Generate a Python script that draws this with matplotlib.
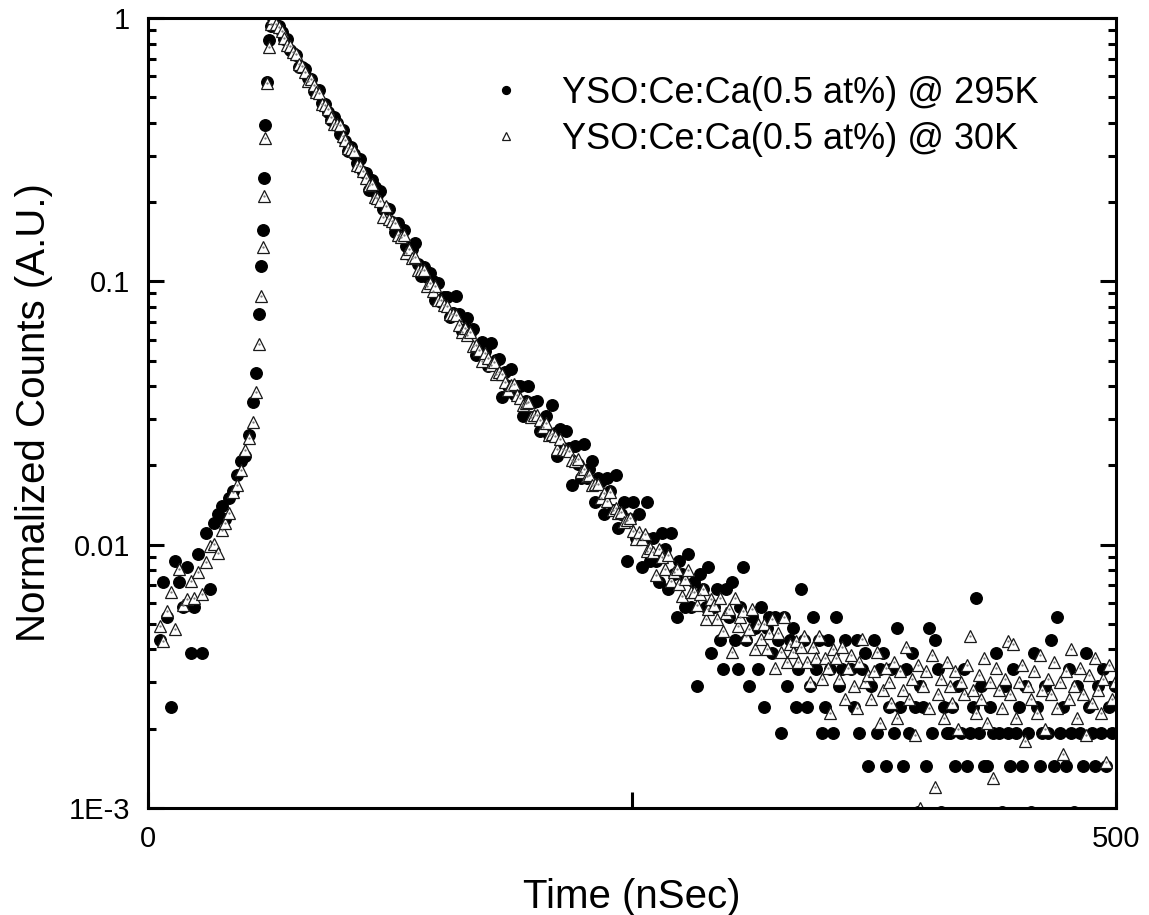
import numpy as np
import matplotlib
matplotlib.use('Agg')
import matplotlib.pyplot as plt
from matplotlib.ticker import LogLocator, NullFormatter, NullLocator

plt.rcParams['font.family'] = ['Liberation Sans', 'DejaVu Sans']

# -----------------------
# time channels (ns)
# -----------------------
t_pre = np.arange(6, 57, 2)                                   # before the rise
t_rise = np.array([57.5, 58.5, 59.2, 59.8, 60.6, 61.6, 62.6, 63.4])
t_dec = 64.5 + 1.5 * np.arange(291)                           # decay channels
time = np.concatenate([t_pre, t_rise, t_dec])

# -----------------------
# YSO:Ce:Ca(0.5 at%) @ 295K, raw counts
# -----------------------
cnt_295_pre = [9, 15, 11, 5, 18, 15, 12, 17, 8, 12, 19, 8, 23, 14, 25,
               27, 29, 26, 31, 33, 38, 43, 45, 54, 72, 93]
cnt_295_rise = [155, 236, 323, 513, 814, 1186, 1710, 1925]
cnt_295_dec = [
    2070, 1934, 1935, 1830, 1724, 1729, 1566, 1527, 1494, 1349,
    1354, 1330, 1226, 1212, 1098, 1091, 1103, 983, 972, 911,
    851, 870, 823, 753, 778, 709, 645, 668, 631, 583,
    601, 539, 535, 461, 503, 473, 441, 457, 388, 393,
    389, 348, 320, 346, 316, 324, 283, 263, 274, 289,
    240, 217, 234, 215, 222, 207, 176, 204, 173, 181,
    180, 152, 157, 182, 156, 134, 136, 150, 132, 137,
    109, 112, 122, 113, 99, 121, 101, 104, 105, 75,
    94, 83, 96, 77, 83, 83, 64, 73, 83, 63,
    72, 73, 56, 60, 64, 54, 70, 55, 45, 57,
    48, 56, 48, 35, 49, 42, 37, 50, 37, 40,
    43, 30, 37, 36, 27, 37, 33, 28, 38, 24,
    27, 30, 18, 26, 30, 22, 27, 17, 22, 30,
    18, 22, 18, 15, 23, 20, 14, 23, 16, 11,
    18, 16, 12, 19, 12, 15, 6, 16, 14, 12,
    17, 8, 12, 14, 9, 7, 14, 11, 15, 9,
    7, 12, 17, 9, 6, 11, 10, 7, 12, 5,
    10, 11, 8, 11, 9, 4, 11, 6, 9, 10,
    5, 7, 14, 9, 5, 6, 11, 7, 9, 4,
    5, 9, 7, 4, 11, 6, 7, 9, 1, 7,
    5, 9, 4, 7, 8, 3, 6, 9, 4, 7,
    8, 3, 5, 7, 4, 10, 5, 3, 7, 4,
    8, 5, 2, 6, 5, 3, 10, 4, 9, 7,
    2, 5, 4, 4, 5, 3, 6, 4, 7, 3,
    4, 5, 13, 4, 6, 3, 3, 5, 4, 8,
    4, 2, 6, 4, 3, 7, 4, 5, 3, 6,
    4, 2, 8, 5, 3, 4, 6, 4, 9, 3,
    11, 4, 5, 3, 7, 4, 2, 6, 4, 3,
    8, 5, 4, 3, 6, 4, 7, 3, 5, 4,
    6]

# -----------------------
# YSO:Ce:Ca(0.5 at%) @ 30K, counts (scaled)
# -----------------------
cnt_30_pre = [49, 43, 56, 66, 48, 81, 59, 62, 73, 63, 79, 65, 86, 99, 101,
              93, 114, 121, 132, 159, 169, 192, 229, 254, 293, 380]
cnt_30_rise = [580, 880, 1350, 2110, 3490, 5650, 7780, 9500]
cnt_30_dec = [
    10000, 9489, 9242, 8962, 8386, 7908, 7837, 7417, 7306, 6705,
    6563, 6240, 5783, 5849, 5560, 5225, 5184, 4729, 4658, 4527,
    4207, 3948, 3968, 3930, 3570, 3448, 3213, 3194, 3139, 2771,
    2753, 2624, 2477, 2313, 2334, 2085, 2075, 2022, 1762, 1932,
    1724, 1695, 1662, 1496, 1469, 1495, 1285, 1331, 1227, 1234,
    1100, 1103, 1104, 957, 983, 921, 963, 849, 852, 815,
    808, 750, 753, 748, 685, 641, 667, 628, 641, 570,
    574, 547, 499, 533, 512, 482, 495, 445, 451, 446,
    413, 388, 405, 408, 371, 361, 340, 346, 347, 306,
    311, 312, 297, 280, 289, 260, 263, 259, 230, 253,
    230, 229, 227, 209, 207, 212, 188, 194, 183, 184,
    169, 170, 170, 151, 157, 147, 158, 136, 138, 132,
    133, 122, 124, 126, 113, 105, 112, 105, 110, 95,
    97, 94, 77, 96, 90, 81, 91, 73, 79, 81,
    71, 64, 74, 80, 66, 66, 59, 65, 68, 52,
    57, 62, 59, 52, 63, 47, 55, 57, 39, 63,
    49, 53, 56, 45, 48, 57, 40, 50, 44, 50,
    40, 46, 52, 34, 46, 39, 53, 36, 42, 39,
    43, 36, 41, 45, 36, 30, 41, 37, 45, 31,
    37, 34, 23, 40, 37, 31, 41, 26, 34, 38,
    29, 24, 36, 44, 30, 32, 26, 33, 39, 21,
    28, 34, 30, 25, 36, 22, 33, 28, 41, 26,
    31, 19, 35, 10, 29, 33, 24, 38, 12, 27,
    31, 22, 36, 29, 25, 33, 20, 30, 27, 35,
    45, 28, 23, 32, 26, 37, 21, 30, 13, 34,
    28, 24, 31, 43, 27, 42, 22, 30, 35, 18,
    29, 26, 33, 23, 38, 28, 20, 31, 27, 36,
    24, 30, 16, 33, 26, 40, 29, 22, 34, 27,
    19, 32, 25, 37, 28, 23, 31, 15, 35, 26,
    30]

labels = ['YSO:Ce:Ca(0.5 at%) @ 295K', 'YSO:Ce:Ca(0.5 at%) @ 30K']
ytick_vals = [1e-3, 1e-2, 1e-1, 1]
ytick_text = ['1E-3', '0.01', '0.1', '1']

c295 = np.array(cnt_295_pre + cnt_295_rise + cnt_295_dec, dtype=float)
c30 = np.array(cnt_30_pre + cnt_30_rise + cnt_30_dec, dtype=float)
y295 = c295 / c295.max()
y30 = c30 / c30.max()

# Plot
# ------------------------------------------------------------------
fig = plt.figure(figsize=(11.49, 9.15), dpi=100)
ax = fig.add_axes([148/1149, 1 - 808/915, 968/1149, 790/915])

ax.plot(time, y295, 'o', ls='none', ms=8.3, color='black', label=labels[0])
ax.plot(time, y30, '^', ls='none', ms=9.0, mfc='white', mec='#1a1a1a',
        mew=0.9, label=labels[1])
ax.plot(time, y30, '.', ls='none', ms=1.3, color='#777777')

ax.set_yscale('log')
ax.set_xlim(0, 500)
ax.set_ylim(1e-3, 1)
ax.set_yticks(ytick_vals)
ax.set_yticklabels(ytick_text)
ax.yaxis.set_minor_locator(LogLocator(base=10, subs=np.arange(2, 10)))
ax.yaxis.set_minor_formatter(NullFormatter())
ax.set_xticks([0, 250, 500])
ax.set_xticklabels(['0', '', '500'])
ax.xaxis.set_minor_locator(NullLocator())

ax.tick_params(axis='y', which='both', direction='in', left=True, right=True, width=2.2)
ax.tick_params(axis='y', which='major', length=11.5, labelsize=21, pad=13)
ax.tick_params(axis='y', which='minor', length=6)
ax.tick_params(axis='x', which='major', direction='in', length=11.5, width=2.2,
               labelsize=21, pad=12, top=False)
for s in ax.spines.values():
    s.set_linewidth(2.2)

ax.set_xlabel('Time (nSec)', fontsize=29, labelpad=18)
ax.set_ylabel('Normalized Counts (A.U.)', fontsize=29, labelpad=11)

ax.legend(loc='upper left', bbox_to_anchor=(488/1149, 1 - 76/915),
          bbox_transform=fig.transFigure, frameon=False, fontsize=26,
          handlelength=1.0, handletextpad=1.05, borderpad=0, borderaxespad=0,
          labelspacing=0.3, markerscale=0.68)

fig.savefig('out.png', dpi=100)
